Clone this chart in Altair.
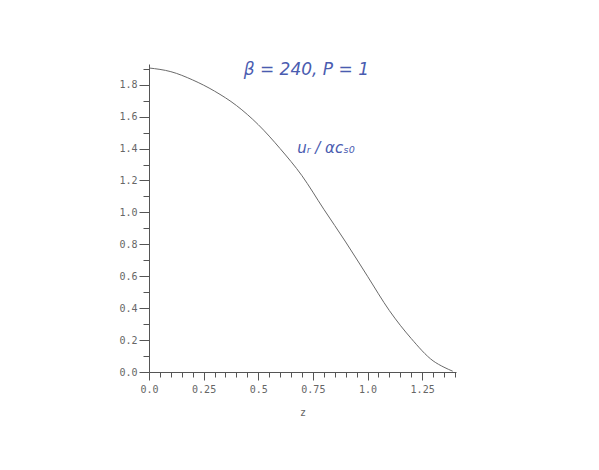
import altair as alt
import pandas as pd

# curve values
z_vals = [0.0, 0.1, 0.2, 0.3, 0.4, 0.5, 0.6, 0.7, 0.8, 0.9, 1.0, 1.1, 1.2, 1.3, 1.35, 1.39]
u_vals = [1.905, 1.882, 1.83, 1.76, 1.67, 1.55, 1.40, 1.23, 1.02, 0.815, 0.60, 0.385, 0.21, 0.07, 0.03, 0.005]

x_ticks = [round(i * 0.05, 2) for i in range(0, 29)]
y_ticks = [round(i * 0.1, 1) for i in range(0, 20)]

ann_text = ["β = 240,  P = 1", "uᵣ / αcₛ₀"]
ann_z = [0.72, 0.81]
ann_u = [1.895, 1.405]
ann_size = [17, 15]

df = pd.DataFrame({"z": z_vals, "u": u_vals})
ann = pd.DataFrame({"t": ann_text, "z": ann_z, "u": ann_u, "s": ann_size})

axis_col = "#555555"
lab_col = "#666666"
font = "DejaVu Sans Mono"

x_major = "round(datum.value*100) % 25 == 0"
y_major = "round(datum.value*10) % 2 == 0"

xscale = alt.Scale(domain=[0, 1.405], nice=False, zero=False)
yscale = alt.Scale(domain=[0, 1.93], nice=False, zero=False)

x_axis = alt.Axis(values=x_ticks, grid=False, domainColor=axis_col, tickColor=axis_col,
                  tickSize={"condition": {"test": x_major, "value": 8}, "value": 5},
                  labelExpr=f"({x_major}) ? (datum.value == floor(datum.value) ? format(datum.value, '.1f') : format(datum.value, '~g')) : ''",
                  labelFont=font, labelFontSize=10, labelColor=lab_col, labelPadding=4,
                  titleFont=font, titleFontSize=10, titleFontWeight="normal", titleColor=lab_col,
                  titlePadding=13, labelFlush=False, labelOverlap=False)
y_axis = alt.Axis(values=y_ticks, grid=False, domainColor=axis_col, tickColor=axis_col,
                  tickSize={"condition": {"test": y_major, "value": 10}, "value": 6},
                  labelExpr=f"({y_major}) ? format(datum.value, '.1f') : ''",
                  labelFont=font, labelFontSize=10, labelColor=lab_col, labelPadding=2,
                  labelFlush=False, labelOverlap=False)

line = alt.Chart(df).mark_line(color="#6a6a6a", strokeWidth=1, interpolate="monotone").encode(
    x=alt.X("z:Q", scale=xscale, title="z", axis=x_axis),
    y=alt.Y("u:Q", scale=yscale, title=None, axis=y_axis),
)

text = alt.Chart(ann).mark_text(color="#4a5cb0", fontStyle="italic", font="DejaVu Sans").encode(
    x=alt.X("z:Q", scale=xscale, title="z", axis=x_axis),
    y=alt.Y("u:Q", scale=yscale, title=None, axis=y_axis),
    text="t:N",
    size=alt.Size("s:Q", scale=None, legend=None),
)

chart = alt.layer(line, text).properties(
    width=307, height=308,
    autosize=alt.AutoSizeParams(type="none"),
    padding={"left": 141, "top": 56, "right": 100, "bottom": 60},
).configure_view(stroke=None)

chart.save("out.html", embed_options={"renderer": "svg", "actions": False})
